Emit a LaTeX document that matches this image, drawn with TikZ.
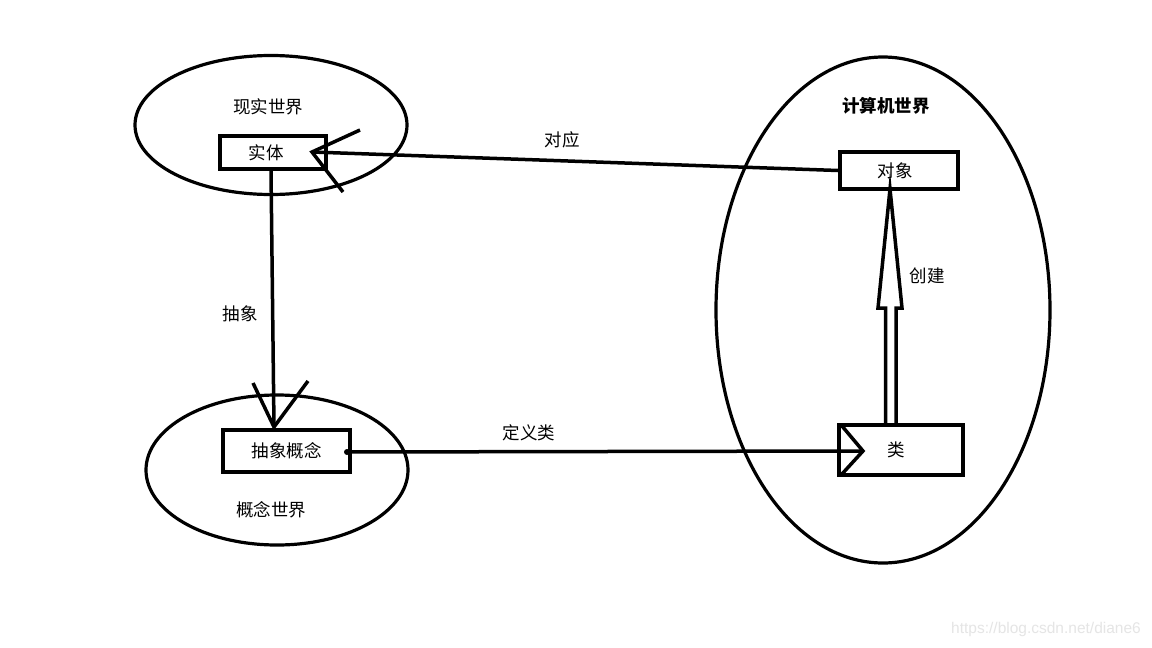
\documentclass[tikz,border=0pt]{standalone}
\usepackage{fontspec}
\setmainfont{Noto Sans CJK SC}
\newfontfamily\wmfont{Liberation Sans}
\usetikzlibrary{shapes.geometric}
\begin{document}
\begin{tikzpicture}[x=1pt,y=-1pt,
  world/.style={draw,ellipse,line width=3.2pt,inner sep=0pt},
  box/.style={draw,rectangle,line width=4pt,inner sep=0pt,font=\fontsize{17.5}{20}\selectfont},
  lbl/.style={inner sep=0pt,font=\fontsize{17.5}{20}\selectfont},
  conn/.style={line width=3.5pt},
  tipline/.style={line width=3.5pt,line cap=butt}]
\useasboundingbox (0,0) rectangle (1152,648);
\fill[white] (0,0) rectangle (1152,648);
% worlds
\node[world,minimum width=272pt,minimum height=139pt] (real) at (271,125) {};
\node[world,minimum width=334pt,minimum height=506pt] (comp) at (883,310) {};
\node[world,minimum width=262pt,minimum height=150pt] (conc) at (277,470) {};
% world labels
\node[lbl] (realtxt) at (268,107) {现实世界};
\node[lbl,font=\fontsize{17.5}{20}\selectfont\bfseries] (comptxt) at (886,106) {计算机世界};
\node[lbl] (conctxt) at (271,510) {概念世界};
% boxes
\node[box,minimum width=106pt,minimum height=33pt] (entity) at (273,152.5) {\hspace*{-14pt}实体};
\node[box,minimum width=118pt,minimum height=37pt] (object) at (899,170.5) {\hspace*{-8pt}对象};
\node[box,minimum width=127pt,minimum height=42pt] (abstract) at (286.5,451) {抽象概念};
\node[box,minimum width=124pt,minimum height=50pt] (class) at (901,450) {\hspace*{-10pt}类};
% tips
\coordinate (t1) at (312,152);
\coordinate (t2) at (274,427);
\coordinate (t3) at (863,451);
\coordinate (t4) at (890,189);
\coordinate (s3) at (347,452);
% correspondence
\draw[conn] (object.west) -- (t1);
\draw[tipline] (360,130) -- (t1) -- (343,192);
\node[lbl] (corr) at (562,140) {对应};
% abstraction
\draw[conn] (entity.south -| 271,0) -- (t2);
\draw[tipline] (253,383) -- (t2) -- (308,381);
\node[lbl] (abs) at (240,314) {抽象};
% define class
\draw[conn] (s3) -- (t3);
\fill (s3) circle (3pt);
\draw[tipline] (842,426) -- (t3) -- (842,474);
\node[lbl] (def) at (529,433) {定义类};
% create (hollow arrow)
\draw[line width=3.5pt,line join=miter] (885.5,425) -- (885.5,308) -- (878,308) -- (t4) -- (902,308) -- (896,308) -- (896,425);
\node[lbl] (create) at (927,276) {创建};
% watermark
\node[inner sep=0pt,text=black!10,font=\wmfont\fontsize{15.5}{17}\selectfont] (wm) at (1046,629) {https://blog.csdn.net/diane6};
\end{tikzpicture}
\end{document}
